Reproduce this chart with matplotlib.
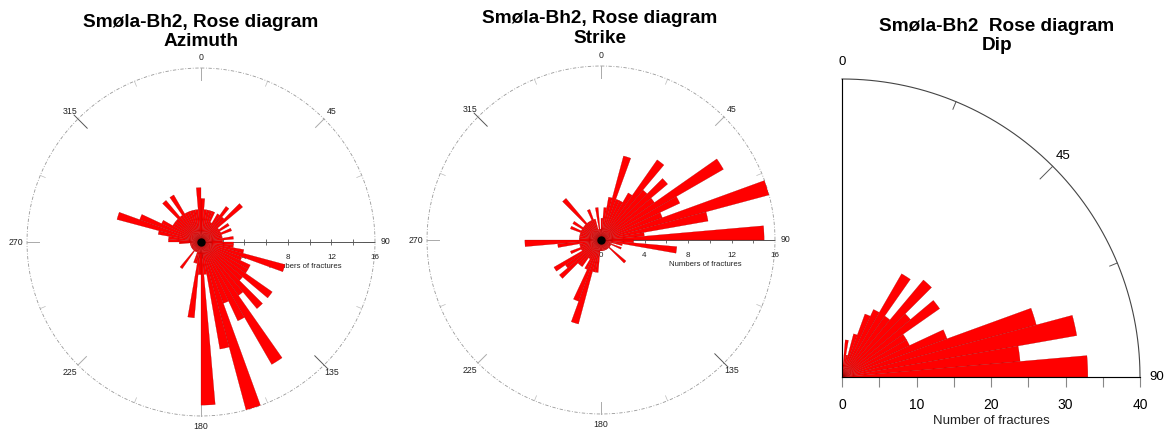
import matplotlib.pyplot as plt
import numpy as np

plt.rcParams['font.family'] = ['Liberation Sans', 'DejaVu Sans']

# 5 degree bins, clockwise from north
bin_width = 5
azimuth_counts = [4, 3, 3, 3, 3, 2, 3, 4, 3, 5, 2, 3,
                  2, 3, 2, 2, 3, 2, 3, 3, 4, 8, 4, 5,
                  5, 8, 5, 8, 6, 13, 8, 6, 16, 10, 3, 15,
                  3, 7, 2, 2, 1, 1, 1, 3, 1, 1, 1, 1,
                  1, 1, 1, 1, 1, 2, 3, 3, 4, 8, 6, 4,
                  3, 3, 3, 5, 3, 5, 3, 3, 3, 3, 3, 5]
strike_counts = [2, 3, 4, 8, 4, 4, 5, 9, 6, 8, 6, 13,
                 8, 6, 16, 10, 4, 15, 3, 7, 2, 1, 2, 1,
                 1, 1, 3, 1, 1, 1, 1, 1, 1, 1, 1, 1,
                 1, 3, 3, 8, 6, 3, 2, 3, 3, 5, 4, 5,
                 2, 3, 2, 2, 4, 7, 2, 2, 2, 2, 3, 2,
                 3, 2, 2, 5, 2, 2, 2, 3, 2, 1, 3, 1]
dip_counts = [0, 5, 3, 6, 9, 10, 16, 10, 17, 12, 16, 10, 10, 15, 27, 32, 24, 33]

rose_ticks = [0, 4, 8, 12, 16]
dip_ticks = [0, 10, 20, 30, 40]

titles = ["Smøla-Bh2, Rose diagram\nAzimuth",
          "Smøla-Bh2, Rose diagram\nStrike",
          "Smøla-Bh2  Rose diagram\nDip"]

W, H = 1170, 430
fig = plt.figure(figsize=(W / 100, H / 100), dpi=100)


def px_axes(cx, cy, rad, full=True):
    # axes box from pixel centre / radius (y measured from top)
    if full:
        box = [(cx - rad) / W, (H - cy - rad) / H, 2 * rad / W, 2 * rad / H]
    else:
        box = [cx / W, (H - cy) / H, rad / W, rad / H]
    ax = fig.add_axes(box, projection='polar')
    ax.set_theta_zero_location('N')
    ax.set_theta_direction(-1)
    ax.grid(False)
    ax.set_xticks([])
    ax.set_yticks([])
    for s in ax.spines.values():
        s.set_visible(False)
    ax.patch.set_alpha(0)
    return ax


def bars(ax, counts, dot=5):
    edges = np.deg2rad(np.arange(len(counts)) * bin_width)
    ax.bar(edges, counts, width=np.deg2rad(bin_width), align='edge',
           color='#ff0000', edgecolor='#8a0000', linewidth=0.15, zorder=2)
    if dot:
        ax.plot([0], [0], 'o', color='black', ms=dot, zorder=3, clip_on=False)


def rose(ax, counts):
    rmax = 16
    th = np.linspace(0, 2 * np.pi, 500)
    ax.plot(th, np.full_like(th, rmax), color='#999999', lw=0.6,
            ls=(0, (4, 2, 1, 2)), clip_on=False, zorder=0.5)
    for a in range(0, 360, 45):
        if a in (135, 315):
            r0, r1, c = 14.8, 16.5, '#555555'
        else:
            r0, r1, c = 14.9, 16.0, '#aaaaaa'
        ax.plot([np.deg2rad(a)] * 2, [r0, r1], color=c, lw=0.7,
                clip_on=False, zorder=0.5)
        ax.text(np.deg2rad(a), 17.0, str(a), ha='center', va='center',
                fontsize=6.3, color='#222222')
    for a in np.arange(22.5, 360, 45):
        ax.plot([np.deg2rad(a)] * 2, [15.5, rmax], color='#bbbbbb', lw=0.5,
                clip_on=False, zorder=0.5)
    # radial axis along 90
    ax.plot([np.pi / 2] * 2, [0, rmax], color='#555555', lw=0.7, zorder=0.5)
    ax.plot([np.pi / 2] * 9, np.arange(0, rmax + 1, 2), ls='none', marker='|',
            ms=5, mew=0.6, color='#555555', zorder=0.5)
    for v in rose_ticks:
        ax.annotate(str(v), xy=(np.pi / 2, v), xytext=(0, -11.5),
                    textcoords='offset points', ha='center', va='center',
                    fontsize=5.8, color='#222222', zorder=0.5,
                    annotation_clip=False)
    ax.annotate('Numbers of fractures', xy=(np.pi / 2, 9.6), xytext=(0, -18),
                textcoords='offset points', ha='center', va='center',
                fontsize=5.6, color='#222222', zorder=0.5, annotation_clip=False)
    bars(ax, counts)
    ax.set_ylim(0, rmax)


ax1 = px_axes(201, 242, 174)
rose(ax1, azimuth_counts)

ax2 = px_axes(601, 240, 174)
rose(ax2, strike_counts)

# dip quarter
ax3 = px_axes(842, 377, 298, full=False)
ax3.set_thetamin(0)
ax3.set_thetamax(90)
rmax = 40
th = np.linspace(0, np.pi / 2, 200)
ax3.plot(th, np.full_like(th, rmax), color='#444444', lw=0.8, clip_on=False)
ax3.plot([0, 0], [0, rmax], color='#999999', lw=0.8, clip_on=False)
ax3.plot([np.pi / 2] * 2, [0, rmax], color='#999999', lw=0.8, clip_on=False)
ax3.plot([np.pi / 2] * 9, np.arange(0, rmax + 1, 5), ls='none', marker=3,
         ms=7, mew=0.8, color='#888888', clip_on=False)
for a, r0 in [(22.5, 38.9), (45, 37.6), (67.5, 38.9)]:
    ax3.plot([np.deg2rad(a)] * 2, [r0, rmax], color='#555555', lw=0.7,
             clip_on=False)
for v in dip_ticks:
    ax3.annotate(str(v), xy=(np.pi / 2, v), xytext=(0, -20),
                 textcoords='offset points', ha='center', va='center',
                 fontsize=10, annotation_clip=False)
ax3.annotate('Number of fractures', xy=(np.pi / 2, 20), xytext=(0, -32),
             textcoords='offset points', ha='center', va='center',
             fontsize=9.5, color='#222222', annotation_clip=False)
ax3.annotate('0', xy=(0, rmax), xytext=(0, 12), textcoords='offset points',
             ha='center', va='center', fontsize=9.5, annotation_clip=False)
ax3.text(np.deg2rad(45), 42, '45', ha='center', va='center', fontsize=9.5)
ax3.text(np.pi / 2, 42.3, '90', ha='center', va='center', fontsize=9.5)
bars(ax3, dip_counts, dot=0)
ax3.set_ylim(0, rmax)

for x, y, t in zip([201, 600, 997], [32, 28.5, 36], titles):
    fig.text(x / W, 1 - y / H, t, ha='center', va='center', fontsize=13.7,
             fontweight='bold', linespacing=1.2)

fig.savefig('out.png', dpi=100)
